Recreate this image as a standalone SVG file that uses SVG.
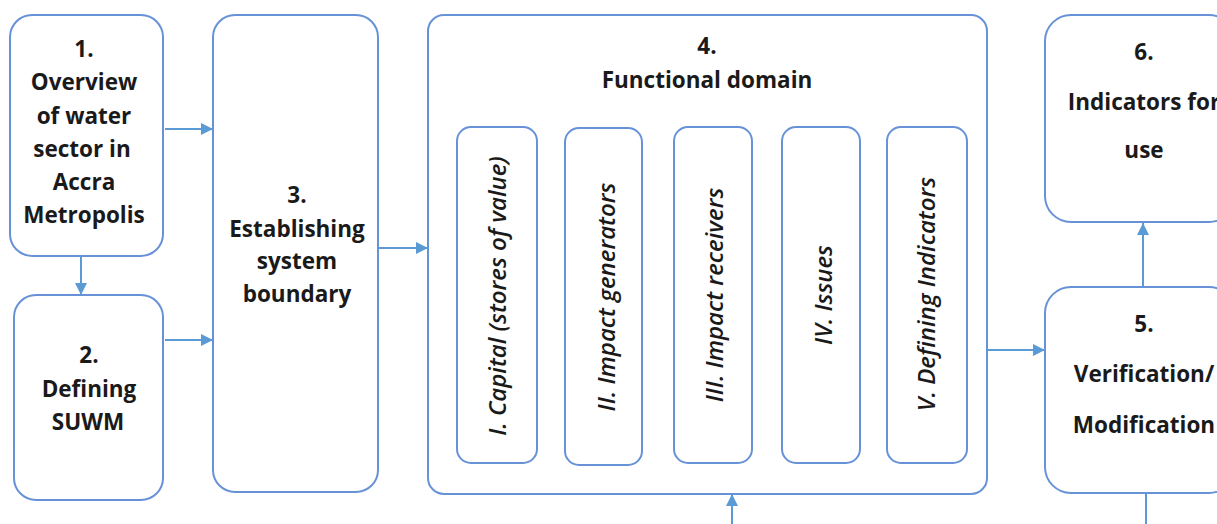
<svg xmlns="http://www.w3.org/2000/svg" width="1217" height="524" viewBox="0 0 1217 524">
  <style>
    .box { fill: #ffffff; stroke: #6792d8; stroke-width: 2; }
    .lbl { font-family: "Open Sans", "Liberation Sans", sans-serif; font-weight: 700; font-size: 22.5px; fill: #1a1a1a; text-anchor: middle; }
    .sub { font-family: "Open Sans", "Liberation Sans", sans-serif; font-weight: 600; font-style: italic; font-size: 24px; fill: #1a1a1a; text-anchor: middle; }
    .conn { stroke: #5b9bd5; stroke-width: 2; fill: none; }
  </style>
  <defs>
    <marker id="arrow" viewBox="0 0 12 12" refX="12" refY="6" markerWidth="12" markerHeight="12" markerUnits="userSpaceOnUse" orient="auto">
      <path d="M0,0 L12,6 L0,12 z" fill="#5b9bd5"/>
    </marker>
  </defs>
  <rect width="1217" height="524" fill="#ffffff"/>

  <g id="connectors">
    <line class="conn" x1="165" y1="129" x2="213" y2="129" marker-end="url(#arrow)"/>
    <line class="conn" x1="165" y1="340" x2="213" y2="340" marker-end="url(#arrow)"/>
    <line class="conn" x1="81" y1="257" x2="81" y2="295" marker-end="url(#arrow)"/>
    <line class="conn" x1="379" y1="248" x2="428" y2="248" marker-end="url(#arrow)"/>
    <line class="conn" x1="988" y1="350" x2="1045" y2="350" marker-end="url(#arrow)"/>
    <line class="conn" x1="1143" y1="287" x2="1143" y2="223" marker-end="url(#arrow)"/>
    <line class="conn" x1="1146" y1="494" x2="1146" y2="524"/>
    <line class="conn" x1="732" y1="524" x2="732" y2="494" marker-end="url(#arrow)"/>
  </g>

  <g id="node1">
    <rect class="box" x="10" y="15" width="153" height="241" rx="22"/>
    <text class="lbl" x="84" y="57">1.</text>
    <text class="lbl" x="84" y="90">Overview</text>
    <text class="lbl" x="84" y="124">of water</text>
    <text class="lbl" x="82" y="157">sector in</text>
    <text class="lbl" x="84" y="190">Accra</text>
    <text class="lbl" x="84" y="223">Metropolis</text>
  </g>

  <g id="node2">
    <rect class="box" x="14" y="295" width="149" height="205" rx="22"/>
    <text class="lbl" x="89" y="363">2.</text>
    <text class="lbl" x="89" y="397">Defining</text>
    <text class="lbl" x="88" y="430">SUWM</text>
  </g>

  <g id="node3">
    <rect class="box" x="213" y="15" width="165" height="477" rx="22"/>
    <text class="lbl" x="297" y="203">3.</text>
    <text class="lbl" x="297" y="237">Establishing</text>
    <text class="lbl" x="297" y="269">system</text>
    <text class="lbl" x="297" y="302">boundary</text>
  </g>

  <g id="node4">
    <rect class="box" x="428" y="15" width="559" height="479" rx="16"/>
    <text class="lbl" x="707" y="54">4.</text>
    <text class="lbl" x="707" y="88">Functional domain</text>
  </g>

  <g id="node4-1">
    <rect class="box" x="457" y="127" width="80" height="336" rx="14"/>
    <text class="sub" transform="translate(506,296) rotate(-90)">I. Capital (stores of value)</text>
  </g>
  <g id="node4-2">
    <rect class="box" x="565" y="128" width="77" height="337" rx="14"/>
    <text class="sub" transform="translate(615,297) rotate(-90)">II. Impact generators</text>
  </g>
  <g id="node4-3">
    <rect class="box" x="674" y="127" width="78" height="336" rx="14"/>
    <text class="sub" transform="translate(723,295) rotate(-90)">III. Impact receivers</text>
  </g>
  <g id="node4-4">
    <rect class="box" x="782" y="127" width="78" height="336" rx="14"/>
    <text class="sub" transform="translate(832,295) rotate(-90)">IV. Issues</text>
  </g>
  <g id="node4-5">
    <rect class="box" x="887" y="127" width="80" height="336" rx="14"/>
    <text class="sub" transform="translate(935,294) rotate(-90)">V. Defining Indicators</text>
  </g>

  <g id="node5">
    <rect class="box" x="1045" y="287" width="190" height="206" rx="26"/>
    <text class="lbl" x="1144" y="332">5.</text>
    <text class="lbl" x="1144" y="382">Verification/</text>
    <text class="lbl" x="1144" y="433">Modification</text>
  </g>

  <g id="node6">
    <rect class="box" x="1045" y="15" width="190" height="207" rx="26"/>
    <text class="lbl" x="1144" y="60">6.</text>
    <text class="lbl" x="1144" y="110">Indicators for</text>
    <text class="lbl" x="1144" y="158">use</text>
  </g>
</svg>
